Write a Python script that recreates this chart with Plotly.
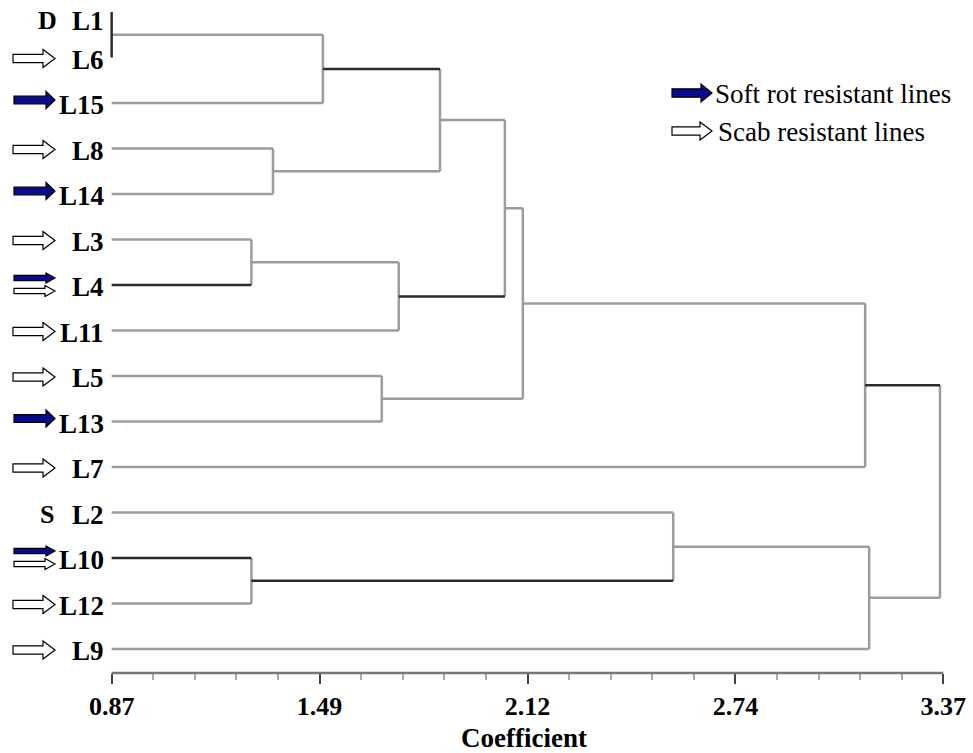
import plotly.graph_objects as go

# ---------------- data ----------------
leaves = ["L1", "L6", "L15", "L8", "L14", "L3", "L4", "L11", "L5", "L13", "L7", "L2", "L10", "L12", "L9"]
leaf_marks = ["D", "scab", "soft", "scab", "soft", "scab", "both", "scab", "scab", "soft", "scab", "S", "both", "scab", "scab"]

merge_nodes = ["N1", "N2", "N3", "N4", "N5", "N6", "N7", "N8", "N9", "N10", "N11", "N12", "N13", "N14"]
merge_left = ["L1", "N1", "L8", "N2", "L3", "N5", "N4", "L5", "N7", "N9", "L10", "L2", "N12", "N10"]
merge_right = ["L6", "L15", "L14", "N3", "L4", "L11", "N6", "L13", "N8", "L7", "L12", "N11", "L9", "N13"]
merge_coef = [0.87, 1.505, 1.355, 1.857, 1.29, 1.733, 2.052, 1.682, 2.106, 3.135, 1.29, 2.558, 3.147, 3.36]

leaf_coef = 0.87
tick_values = [0.87, 1.495, 2.12, 2.745, 3.37]
tick_labels = ["0.87", "1.49", "2.12", "2.74", "3.37"]
minor_step = 0.125

legend_labels = ["Soft rot resistant lines", "Scab resistant lines"]

# -------------- styling / layout constants --------------
dark_branches = {"L4", "N2", "N6", "L10", "N11", "N10"}
dark_verticals = {"N1"}
GRAY = "#9c9c9c"
DARK = "#2b2b2b"
BLUE = "#0a0a8c"
FONT = "Liberation Serif"

W, H = 973, 753
ML, MR, MT, MB = 105, 23, 5, 80
PW, PH = W - ML - MR, H - MT - MB
XR = [0.85, 3.39]
YR = [14.527, -0.154]  # reversed

# -------------- dendrogram geometry --------------
pos = {name: (leaf_coef, i) for i, name in enumerate(leaves)}
gx, gy, dx, dy = [], [], [], []


def seg(x0, y0, x1, y1, dark):
    tx, ty = (dx, dy) if dark else (gx, gy)
    tx += [x0, x1, None]
    ty += [y0, y1, None]


for node, a, b, h in zip(merge_nodes, merge_left, merge_right, merge_coef):
    xa, ya = pos[a]
    xb, yb = pos[b]
    seg(xa, ya, h, ya, a in dark_branches)
    seg(xb, yb, h, yb, b in dark_branches)
    seg(h, ya, h, yb, node in dark_verticals)
    pos[node] = (h, (ya + yb) / 2)

fig = go.Figure()
fig.add_trace(go.Scatter(x=gx, y=gy, mode="lines", line=dict(color=GRAY, width=2.5),
                         hoverinfo="skip", showlegend=False, cliponaxis=False))
fig.add_trace(go.Scatter(x=dx, y=dy, mode="lines", line=dict(color=DARK, width=2.5),
                         hoverinfo="skip", showlegend=False, cliponaxis=False))


# -------------- pixel helpers --------------
def px2x(px):
    return (px - ML) / PW


def py2y(py):
    return 1 - (py - MT) / PH


def leaf_py(i):
    return MT + (i - YR[1]) / (YR[0] - YR[1]) * PH


def text(px, py, s, size, anchor="center", bold=False):
    fig.add_annotation(x=px2x(px), y=py2y(py), xref="paper", yref="paper",
                       text=f"<b>{s}</b>" if bold else s, showarrow=False,
                       xanchor=anchor, yanchor="middle",
                       font=dict(family=FONT, size=size, color="black"))


def arrow(x0, x1, yc, body, head, hlen, fill):
    xh = x1 - hlen
    pts = [(x0, yc - body), (xh, yc - body), (xh, yc - head), (x1, yc),
           (xh, yc + head), (xh, yc + body), (x0, yc + body)]
    path = "M " + " L ".join(f"{px2x(px):.5f},{py2y(py):.5f}" for px, py in pts) + " Z"
    fig.add_shape(type="path", path=path, xref="paper", yref="paper",
                  fillcolor=fill, line=dict(color="black", width=1.2), layer="above")


for i, (name, m) in enumerate(zip(leaves, leaf_marks)):
    yc = leaf_py(i)
    ly = max(yc + 2, 21)
    text(106, ly, name, 27, anchor="right", bold=True)
    if m == "soft":
        arrow(14, 55, yc - 3, 3.8, 8.5, 9, BLUE)
    elif m == "scab":
        arrow(13, 55, yc + 1, 4.2, 9, 12, "white")
    elif m == "both":
        arrow(14, 55, yc - 7, 2.6, 5, 9, BLUE)
        arrow(14, 55, yc + 6, 2.6, 5.5, 10, "white")
    else:
        text(47, ly, m, 26, bold=True)

# legend
arrow(672, 712, 93, 4.2, 9, 11, BLUE)
arrow(672, 712, 131, 4.2, 9, 12, "white")
text(713, 94, legend_labels[0], 27, anchor="left")
text(716, 132, legend_labels[1], 27, anchor="left")

# x title
text(524, 738, "Coefficient", 27, bold=True)

minor_vals = [round(tick_values[0] + minor_step * k, 4)
              for k in range(int(round((tick_values[-1] - tick_values[0]) / minor_step)) + 1)]

fig.update_layout(
    width=W, height=H,
    margin=dict(l=ML, r=MR, t=MT, b=MB, pad=0),
    paper_bgcolor="white", plot_bgcolor="white",
    xaxis=dict(range=XR, showgrid=False, zeroline=False, showline=False,
               tickmode="array", tickvals=tick_values,
               ticktext=[f"<b>{t}</b>" for t in tick_labels],
               ticks="outside", ticklen=10, tickwidth=2, tickcolor="#444",
               tickfont=dict(family=FONT, size=26, color="black"),
               ticklabelstandoff=0,
               minor=dict(tickmode="array", tickvals=minor_vals, ticks="outside",
                          ticklen=6, tickwidth=2, tickcolor="#aaaaaa")),
    yaxis=dict(range=YR, showgrid=False, zeroline=False, showline=False,
               showticklabels=False, ticks=""),
)

# axis baseline from first to last tick
fig.add_shape(type="line", xref="x", yref="paper", x0=tick_values[0], x1=tick_values[-1],
              y0=0, y1=0, line=dict(color="#777777", width=2.5))

fig.write_html("out.html")
